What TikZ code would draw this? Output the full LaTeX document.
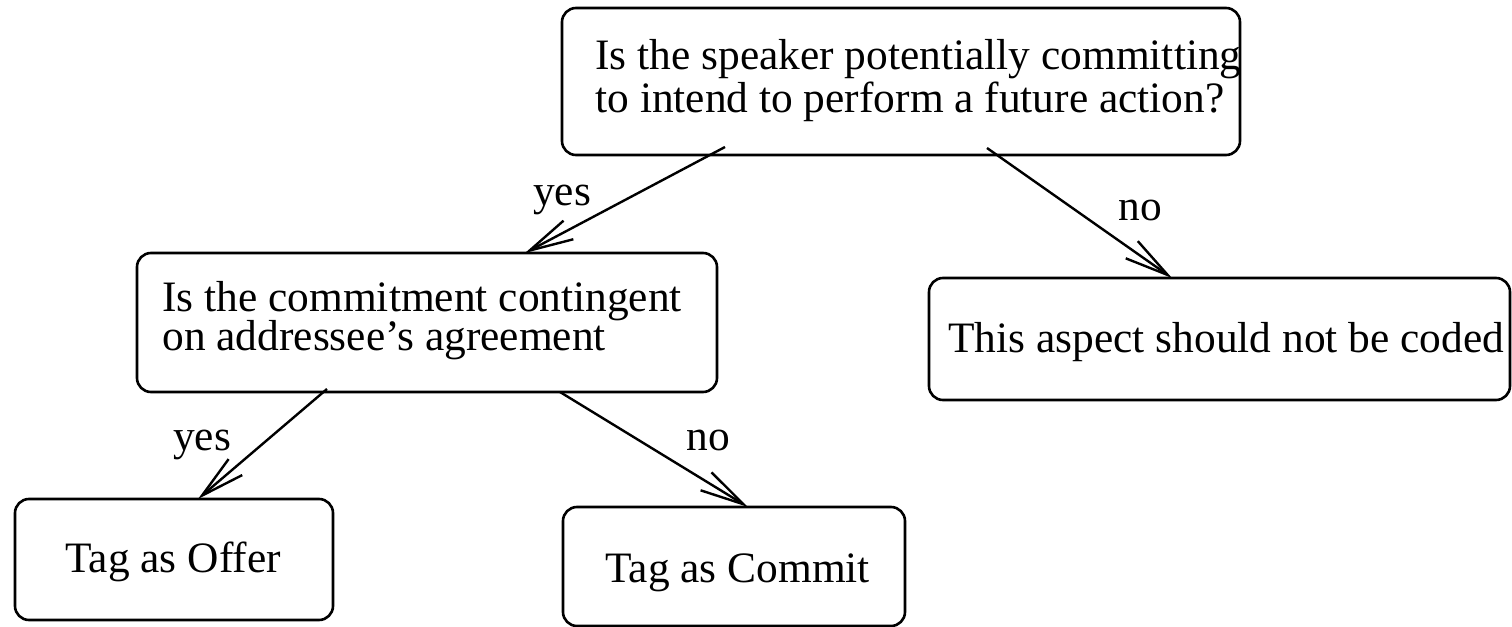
\documentclass[tikz,border=0pt]{standalone}
\usepackage{fontspec}
\setmainfont{Liberation Serif}
\usetikzlibrary{arrows.meta,calc}
\newcommand{\diagfont}{\fontsize{21.7}{19.5}\selectfont\setlength{\lineskiplimit}{-30pt}}

\begin{document}
\begin{tikzpicture}[x=0.5pt,y=-0.5pt]
    \tikzset{box/.style={draw, line width=1.3pt, rounded corners=7pt, inner sep=0pt, outer sep=0pt},
             txt/.style={font=\diagfont, inner sep=0pt, align=left},
             myarrow/.style={-{Straight Barb[length=22pt,width=10.5pt]}, line width=1.2pt}}
    \useasboundingbox (0,0) rectangle (1512,627);

    % boxes
    \draw node[box, minimum width=339pt, minimum height=73.5pt] (future) at (901,81.5) {};
    \draw node[box, minimum width=290pt, minimum height=69.5pt] (contingent) at (427,322.5) {};
    \draw node[box, minimum width=290.5pt, minimum height=61pt] (nocode) at (1219.5,339) {};
    \draw node[box, minimum width=159pt, minimum height=60.5pt] (offer) at (174,559.5) {};
    \draw node[box, minimum width=171pt, minimum height=59.5pt] (commit) at (734,566.5) {};

    % texts (base = last line)
    \draw node[txt, anchor=base west] (futuretext) at (595,112) {Is the speaker potentially committing\\[2pt]to intend to perform a future action?};
    \draw node[txt, anchor=base west] (contingenttext) at (162,350) {Is the commitment contingent\\on addressee's agreement};
    \draw node[txt, anchor=base west] (nocodetext) at (948,352) {This aspect should not be coded};
    \draw node[txt, anchor=base west] (offertext) at (65,572) {Tag as Offer};
    \draw node[txt, anchor=base west] (committext) at (605,582) {Tag as Commit};

    % answers
    \draw node[txt, anchor=base] (yesa) at (562,205) {yes};
    \draw node[txt, anchor=base] (noa) at (1140,220) {no};
    \draw node[txt, anchor=base] (yesb) at (202,450) {yes};
    \draw node[txt, anchor=base] (nob) at (708,450) {no};

    \draw[myarrow] ($(future.south west)+(163,-8)$) -- ($(contingent.north west)+(388,0)$);
    \draw[myarrow] ($(future.south west)+(425,-7)$) -- ($(nocode.north west)+(243,0)$);
    \draw[myarrow] ($(contingent.south west)+(190,-3)$) -- ($(offer.north west)+(183,0)$);
    \draw[myarrow] ($(contingent.south west)+(423,0)$) -- ($(commit.north west)+(185,0)$);
  \end{tikzpicture}
\end{document}
